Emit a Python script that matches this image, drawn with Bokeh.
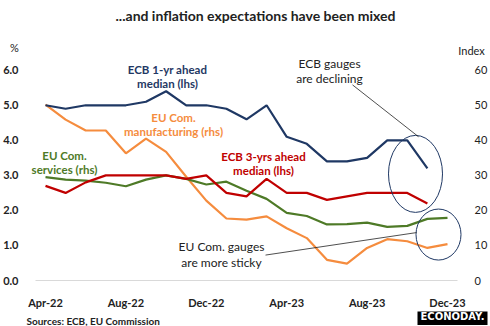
from bokeh.plotting import figure
from bokeh.layouts import column
from bokeh.models import Range1d, LinearAxis, FixedTicker, Label
from bokeh.embed import file_html
from bokeh.resources import INLINE

NaN = float("nan")
months = ["Apr-22", "May-22", "Jun-22", "Jul-22", "Aug-22", "Sep-22", "Oct-22",
          "Nov-22", "Dec-22", "Jan-23", "Feb-23", "Mar-23", "Apr-23", "May-23",
          "Jun-23", "Jul-23", "Aug-23", "Sep-23", "Oct-23", "Nov-23", "Dec-23"]
ecb_1yr = [5.0, 4.9, 5.0, 5.0, 5.0, 5.1, 5.4, 5.0, 5.0, 4.9, 4.6, 5.0, 4.1, 3.9,
           3.4, 3.4, 3.5, 4.0, 4.0, 3.2, NaN]
ecb_3yr = [2.7, 2.5, 2.8, 3.0, 3.0, 3.0, 3.0, 2.9, 3.0, 2.5, 2.4, 2.9, 2.5, 2.5,
           2.3, 2.4, 2.5, 2.5, 2.5, 2.2, NaN]
eu_services = [29.5, 28.8, 28.5, 27.9, 26.9, 28.8, 30.0, 29.0, 27.4, 28.2, 25.6,
               23.3, 19.3, 18.4, 16.0, 16.1, 16.5, 15.3, 15.6, 17.6, 17.9]
eu_manuf = [50.2, 45.9, 42.8, 42.8, 36.3, 40.5, 36.7, 29.6, 22.8, 17.7, 17.4,
            18.3, 14.9, 12.1, 5.9, 4.8, 9.3, 11.8, 11.2, 9.3, 10.4]
x_tick_labels = ["Apr-22", "Aug-22", "Dec-22", "Apr-23", "Aug-23", "Dec-23"]
left_ticks = [0, 1, 2, 3, 4, 5, 6]
right_ticks = [0, 10, 20, 30, 40, 50, 60]

BLUE = "#1F3864"
RED = "#C00000"
GREEN = "#4E7A27"
ORANGE = "#F58C3E"
INK = "#222222"
FONT = "Lato"

xs = list(range(len(months)))

W, H = 490, 326
HEAD = 57          # header strip height (title, units)
FOOT_TOP = 311     # footer strip start (sources, logo)
FL, FR = 26, 462   # frame left / right (canvas px)
ZERO_Y = 285       # canvas y of value 0
FB = 286           # frame bottom (canvas px)
px_per_x = 20.1
x0 = 45            # canvas x of first month
ppu_left = 35.83   # px per 1.0 on left axis


def dx(px):
    return (px - x0) / px_per_x


def dy(py):
    return (ZERO_Y - py) / ppu_left


def no_align(fig):
    try:
        fig.frame_align = False
    except Exception:
        pass


# ---------------- header ----------------
head = figure(width=W, height=HEAD, output_backend="svg", toolbar_location=None,
              x_range=Range1d(0, W), y_range=Range1d(0, HEAD),
              x_axis_type=None, y_axis_type=None, min_border=0)
head.outline_line_color = None
no_align(head)


def hlab(text, px, py, size, style, align="center"):
    head.add_layout(Label(x=px, y=HEAD - py, text=text, text_color=INK,
                          text_font=FONT, text_font_size=size,
                          text_font_style=style, text_align=align,
                          text_baseline="middle"))


hlab("...and inflation expectations have been mixed", 255, 15, "14px", "bold")
hlab("%", 14, 47, "11px", "normal")
hlab("Index", 471, 50, "11px", "normal")

# ---------------- main chart ----------------
MH = FOOT_TOP - HEAD
p = figure(width=W, height=MH, output_backend="svg", toolbar_location=None,
           x_range=Range1d(dx(FL), dx(FR)), y_range=Range1d(dy(FB), dy(HEAD)),
           min_border_left=FL, min_border_right=W - FR,
           min_border_top=0, min_border_bottom=FOOT_TOP - FB)
p.extra_y_ranges = {"right": Range1d(dy(FB) * 10, dy(HEAD) * 10)}
p.outline_line_color = None
p.xgrid.visible = False
p.ygrid.visible = False
no_align(p)

p.xaxis.ticker = FixedTicker(ticks=[months.index(m) for m in x_tick_labels])
p.xaxis.major_label_overrides = {months.index(m): m for m in x_tick_labels}
p.xaxis.axis_line_color = None
p.xaxis.major_tick_line_color = None
p.xaxis.minor_tick_line_color = None
p.xaxis.major_label_text_font = FONT
p.xaxis.major_label_text_font_style = "bold"
p.xaxis.major_label_text_font_size = "11px"
p.xaxis.major_label_text_color = INK
p.xaxis.major_label_standoff = 8

p.yaxis.ticker = FixedTicker(ticks=left_ticks)
p.yaxis.major_label_overrides = {t: f"{t:.1f}" for t in left_ticks}
p.yaxis.axis_line_color = None
p.yaxis.major_tick_line_color = None
p.yaxis.minor_tick_line_color = None
p.yaxis.major_label_text_font = FONT
p.yaxis.major_label_text_font_style = "bold"
p.yaxis.major_label_text_font_size = "11px"
p.yaxis.major_label_text_color = INK
p.yaxis.major_label_standoff = 2

ra = LinearAxis(y_range_name="right", ticker=FixedTicker(ticks=right_ticks))
ra.axis_line_color = None
ra.major_tick_line_color = None
ra.minor_tick_line_color = None
ra.major_label_text_font = FONT
ra.major_label_text_font_size = "11px"
ra.major_label_text_color = INK
ra.major_label_standoff = 6
p.add_layout(ra, "right")

# baseline
p.line([dx(35), dx(457)], [0, 0], color="#D9D9D9", line_width=1)

# series
p.line(xs, eu_manuf, color=ORANGE, line_width=2.2, y_range_name="right")
p.line(xs, eu_services, color=GREEN, line_width=2.2, y_range_name="right")
p.line(xs, ecb_3yr, color=RED, line_width=2.2)
p.line(xs, ecb_1yr, color=BLUE, line_width=2.2)

# ellipses and pointer lines
p.ellipse(x=[dx(415)], y=[dy(176)], width=54, height=77,
          width_units="screen", height_units="screen",
          fill_color=None, line_color=BLUE, line_width=1)
p.ellipse(x=[dx(438)], y=[dy(238)], width=45, height=51,
          width_units="screen", height_units="screen",
          fill_color=None, line_color=BLUE, line_width=1)
p.line([dx(352), dx(418)], [dy(85), dy(138)], color=INK, line_width=0.8)
p.line([dx(265), dx(416)], [dy(259), dy(236)], color=INK, line_width=0.8)


def lab(text, px, py, color=INK, size="11.5px", style="bold"):
    p.add_layout(Label(x=dx(px), y=dy(py), text=text, text_color=color,
                       text_font=FONT, text_font_size=size,
                       text_font_style=style, text_align="center",
                       text_baseline="middle"))


lab("ECB 1-yr ahead", 167, 69, BLUE)
lab("median (lhs)", 167, 84, BLUE)
lab("EU Com.", 173, 118, ORANGE)
lab("manufacturing (rhs)", 173, 133, ORANGE)
lab("EU Com.", 64, 157, GREEN)
lab("services (rhs)", 64, 171, GREEN)
lab("ECB 3-yrs ahead", 263, 158, RED)
lab("median (lhs)", 263, 173, RED)

lab("ECB gauges", 329, 63, style="normal", size="12px")
lab("are declining", 329, 78, style="normal", size="12px")
lab("EU Com. gauges", 221, 250, style="normal", size="12px")
lab("are more sticky", 221, 267, style="normal", size="12px")

# ---------------- footer ----------------
FH = H - FOOT_TOP
foot = figure(width=W, height=FH, output_backend="svg", toolbar_location=None,
              x_range=Range1d(0, W), y_range=Range1d(0, FH),
              x_axis_type=None, y_axis_type=None, min_border=0)
foot.outline_line_color = None
no_align(foot)
foot.add_layout(Label(x=26, y=H - 320, text="Sources: ECB, EU Commission",
                      text_color=INK, text_font=FONT, text_font_size="10px",
                      text_font_style="bold", text_align="left",
                      text_baseline="middle"))
foot.add_layout(Label(x=452, y=H - 316, text="ECONODAY.", text_color="white",
                      text_font="DejaVu Sans", text_font_size="10px",
                      text_font_style="bold", text_align="center",
                      text_baseline="middle", background_fill_color="black",
                      padding=3))

layout = column(head, p, foot, spacing=0)
open("out.html", "w").write(file_html(layout, INLINE))
